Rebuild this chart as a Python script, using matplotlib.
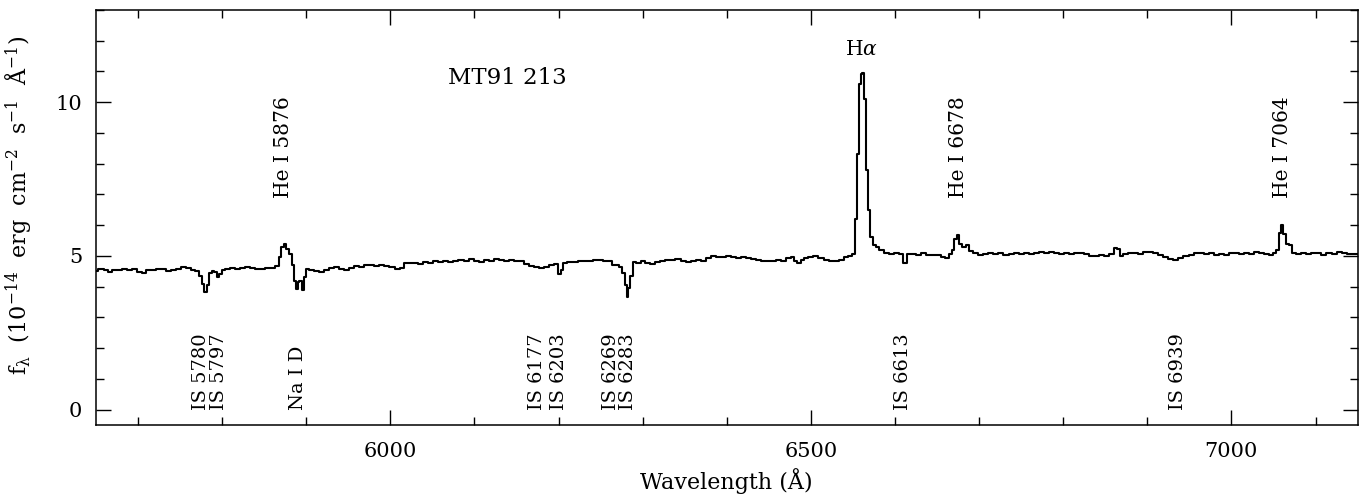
import matplotlib
matplotlib.use("Agg")
import matplotlib.pyplot as plt
from matplotlib.ticker import MultipleLocator

plt.rcParams['font.family'] = ['DejaVu Serif']
plt.rcParams['mathtext.fontset'] = 'dejavuserif'

wavelength = [
    5650, 5656, 5662, 5667, 5672, 5678, 5684, 5690, 5696, 5702, 5707, 5712, 5718, 5724, 5730, 5736,
    5742, 5748, 5754, 5760, 5766, 5770, 5774, 5777, 5780, 5783, 5786, 5789, 5792, 5795, 5798, 5801,
    5806, 5812, 5818, 5824, 5830, 5836, 5842, 5848, 5854, 5860, 5866, 5869, 5872, 5875, 5878, 5881,
    5884, 5887, 5889, 5891, 5893, 5896, 5898, 5901, 5906, 5912, 5918, 5924, 5930, 5936, 5942, 5948,
    5954, 5960, 5966, 5972, 5978, 5984, 5990, 5996, 6002, 6008, 6014, 6018, 6024, 6030, 6036, 6042,
    6048, 6054, 6060, 6066, 6072, 6078, 6084, 6090, 6096, 6102, 6108, 6114, 6120, 6126, 6132, 6138,
    6144, 6150, 6156, 6162, 6168, 6174, 6180, 6186, 6192, 6198, 6201, 6204, 6207, 6214, 6220, 6226,
    6232, 6238, 6244, 6250, 6256, 6262, 6266, 6270, 6274, 6277, 6280, 6282, 6284, 6287, 6290, 6295,
    6300, 6306, 6312, 6318, 6324, 6330, 6336, 6342, 6348, 6354, 6360, 6366, 6372, 6378, 6384, 6390,
    6396, 6402, 6408, 6414, 6420, 6426, 6432, 6438, 6444, 6450, 6456, 6462, 6468, 6474, 6478, 6482,
    6486, 6490, 6494, 6500, 6506, 6512, 6518, 6524, 6530, 6536, 6542, 6547, 6551, 6554, 6556, 6558,
    6560, 6562, 6564, 6566, 6569, 6572, 6575, 6579, 6584, 6590, 6596, 6602, 6608, 6612, 6616, 6622,
    6628, 6634, 6640, 6646, 6652, 6658, 6662, 6666, 6669, 6672, 6675, 6678, 6682, 6686, 6690, 6696,
    6702, 6708, 6714, 6720, 6726, 6732, 6738, 6744, 6750, 6756, 6762, 6768, 6774, 6780, 6786, 6792,
    6798, 6804, 6810, 6816, 6822, 6828, 6834, 6840, 6846, 6852, 6858, 6862, 6866, 6869, 6874, 6880,
    6886, 6892, 6898, 6904, 6910, 6916, 6922, 6928, 6934, 6940, 6946, 6952, 6958, 6964, 6970, 6976,
    6982, 6988, 6994, 7000, 7006, 7012, 7018, 7024, 7030, 7036, 7042, 7048, 7052, 7055, 7058, 7060,
    7063, 7066, 7070, 7074, 7080, 7086, 7092, 7098, 7104, 7110, 7116, 7122, 7128, 7134, 7140, 7146,
    7150,
]
flux = [
    4.52, 4.56, 4.55, 4.48, 4.54, 4.55, 4.56, 4.53, 4.57, 4.47, 4.44, 4.54, 4.55, 4.57, 4.56, 4.52,
    4.55, 4.58, 4.63, 4.62, 4.55, 4.52, 4.35, 4.10, 3.84, 4.05, 4.45, 4.52, 4.48, 4.31, 4.42, 4.55,
    4.57, 4.60, 4.58, 4.62, 4.65, 4.60, 4.56, 4.58, 4.60, 4.62, 4.66, 4.95, 5.30, 5.40, 5.22, 5.05,
    4.70, 4.20, 3.92, 4.15, 4.18, 3.90, 4.30, 4.57, 4.55, 4.52, 4.49, 4.55, 4.60, 4.65, 4.58, 4.55,
    4.62, 4.68, 4.65, 4.70, 4.71, 4.68, 4.72, 4.66, 4.65, 4.57, 4.62, 4.78, 4.76, 4.78, 4.75, 4.80,
    4.77, 4.82, 4.80, 4.84, 4.79, 4.82, 4.86, 4.84, 4.89, 4.83, 4.81, 4.86, 4.84, 4.90, 4.87, 4.83,
    4.86, 4.84, 4.82, 4.75, 4.68, 4.65, 4.62, 4.65, 4.70, 4.74, 4.40, 4.55, 4.76, 4.80, 4.81, 4.83,
    4.85, 4.84, 4.87, 4.86, 4.85, 4.84, 4.72, 4.70, 4.65, 4.45, 4.05, 3.68, 3.95, 4.35, 4.81, 4.78,
    4.83, 4.76, 4.74, 4.80, 4.85, 4.88, 4.86, 4.90, 4.84, 4.80, 4.85, 4.88, 4.85, 4.92, 5.00, 4.97,
    4.98, 5.00, 4.96, 4.94, 4.96, 4.92, 4.90, 4.86, 4.84, 4.82, 4.85, 4.87, 4.83, 4.92, 4.95, 4.84,
    4.76, 4.88, 4.93, 4.97, 5.00, 4.94, 4.88, 4.85, 4.82, 4.86, 4.96, 5.00, 5.05, 6.20, 8.30, 10.60,
    10.90, 10.95, 10.10, 7.80, 6.50, 5.60, 5.36, 5.28, 5.18, 5.10, 5.06, 5.08, 5.05, 4.76, 5.05, 5.07,
    5.03, 5.08, 5.04, 5.02, 5.03, 4.95, 4.92, 5.05, 5.20, 5.55, 5.68, 5.38, 5.30, 5.35, 5.16, 5.08,
    5.03, 5.06, 5.10, 5.06, 5.08, 5.04, 5.05, 5.10, 5.06, 5.08, 5.05, 5.10, 5.12, 5.08, 5.13, 5.10,
    5.06, 5.08, 5.05, 5.10, 5.08, 5.06, 5.00, 5.00, 5.02, 5.00, 5.05, 5.25, 5.22, 5.00, 5.06, 5.10,
    5.08, 5.05, 5.12, 5.13, 5.08, 5.04, 4.98, 4.90, 4.88, 4.92, 5.00, 5.04, 5.08, 5.10, 5.05, 5.08,
    5.04, 5.06, 5.02, 5.08, 5.10, 5.06, 5.08, 5.07, 5.12, 5.10, 5.05, 5.04, 5.10, 5.20, 5.75, 6.00,
    5.70, 5.40, 5.36, 5.10, 5.06, 5.08, 5.05, 5.10, 5.08, 5.04, 5.10, 5.06, 5.12, 5.08, 5.05, 5.06,
    5.05,
]

# line identifications
low_labels = ["IS 5780", "IS 5797", "Na I D", "IS 6177", "IS 6203", "IS 6269", "IS 6283", "IS 6613", "IS 6939"]
low_wl = [5780, 5797, 5893, 6177, 6203, 6269, 6283, 6613, 6939]
high_labels = ["He I 5876", "He I 6678", "He I 7064"]
high_wl = [5876, 6678, 7064]
halpha_label = r"H$\alpha$"
halpha_wl = 6563
object_name = "MT91 213"

fig = plt.figure(figsize=(13.61, 4.96), dpi=100)
ax = fig.add_axes([0.0705, 0.143, 0.927, 0.837])

ax.plot(wavelength, flux, drawstyle='steps-mid', color='black', lw=1.5)

ax.set_xlim(5650, 7150)
ax.set_ylim(-0.5, 13)
ax.xaxis.set_major_locator(MultipleLocator(500))
ax.xaxis.set_minor_locator(MultipleLocator(100))
ax.yaxis.set_major_locator(MultipleLocator(5))
ax.yaxis.set_minor_locator(MultipleLocator(1))
ax.tick_params(which='both', direction='in', top=True, right=True, labelsize=15, width=1)
ax.tick_params(which='major', length=11)
ax.tick_params(which='minor', length=6)
ax.tick_params(axis='x', which='major', pad=12)
ax.tick_params(axis='y', which='major', pad=10)
for sp in ax.spines.values():
    sp.set_linewidth(1.1)

fs = 14
# pairs of close lines get a small nudge apart so their labels sit side by side
low_shift = [-5, -1, -3, -3, -3, -7, 0, -3, -3]
for lab, w, s in zip(low_labels, low_wl, low_shift):
    ax.text(w + s, 0.0, lab, rotation=90, ha='center', va='bottom', fontsize=fs)
for lab, w in zip(high_labels, high_wl):
    ax.text(w - 3, 6.9, lab, rotation=90, ha='center', va='bottom', fontsize=14.5)
ax.text(halpha_wl - 3, 11.4, halpha_label, ha='center', va='bottom', fontsize=14.5)
ax.text(6139, 10.8, object_name, ha='center', va='center', fontsize=16.5)

ax.set_xlabel("Wavelength (Å)", fontsize=16, labelpad=5)
ax.set_ylabel(r"$\mathrm{f_\lambda\ \ (10^{-14}\ \ erg\ \ cm^{-2}\ \ s^{-1}\ \ \AA^{-1})}$",
              fontsize=16, labelpad=8)
ax.yaxis.set_label_coords(-0.049, 0.53)

fig.savefig("out.png", dpi=100)
